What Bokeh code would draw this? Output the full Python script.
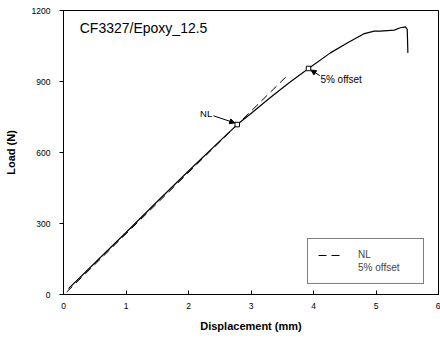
from bokeh.plotting import figure
from bokeh.models import Range1d, Legend, LegendItem, Arrow, NormalHead, FixedTicker
from bokeh.core.properties import value
from bokeh.embed import file_html
from bokeh.resources import INLINE

# --- data ---
disp = [0.08, 0.5, 1.0, 1.5, 2.0, 2.5, 2.78, 3.0, 3.3, 3.6, 3.92, 4.27, 4.54, 4.80, 4.97, 5.07, 5.29, 5.39, 5.47, 5.50, 5.51]
load = [25, 133, 262, 393, 522, 648, 718, 765, 830, 893, 955, 1021, 1063, 1101, 1113, 1113, 1117, 1127, 1131, 1120, 1021]
nl_x = [0.05, 3.6]
nl_y = [10, 930]
offset_x = [0.05, 3.92]
offset_y = [10, 955]
marker_x = [2.78, 3.92]
marker_y = [718, 955]
title_text = "CF3327/Epoxy_12.5"
x_ticks = [0, 1, 2, 3, 4, 5, 6]
y_ticks = [0, 300, 600, 900, 1200]

FONT = "Liberation Sans"

p = figure(width=440, height=341, output_backend="svg", toolbar_location=None,
           x_range=Range1d(0, 6), y_range=Range1d(0, 1200),
           min_border_left=63, min_border_right=2, min_border_top=10, min_border_bottom=47)
p.background_fill_color = "white"
p.border_fill_color = "white"
p.outline_line_color = "black"
p.outline_line_width = 1
p.xgrid.visible = False
p.ygrid.visible = False

for ax in (p.xaxis[0], p.yaxis[0]):
    ax.axis_line_color = "black"
    ax.major_tick_line_color = "black"
    ax.minor_tick_line_color = None
    ax.major_label_text_font = FONT
    ax.major_label_text_font_size = "8.5px"
    ax.major_label_text_color = "black"
    ax.axis_label_text_font = FONT
    ax.axis_label_text_font_size = "11px"
    ax.axis_label_text_font_style = "bold"
    ax.axis_label_text_color = "black"

p.xaxis.ticker = FixedTicker(ticks=x_ticks)
p.yaxis.ticker = FixedTicker(ticks=y_ticks)
p.xaxis.major_tick_in = 4
p.xaxis.major_tick_out = 0
p.yaxis.major_tick_in = 0
p.yaxis.major_tick_out = 4
p.xaxis.major_label_standoff = 8
p.yaxis.major_label_standoff = 9
p.xaxis.axis_label = "Displacement (mm)"
p.yaxis.axis_label = "Load (N)"
p.xaxis.axis_label_standoff = 8
p.yaxis.axis_label_standoff = 12

curve = p.line(disp, load, line_color="black", line_width=1.2)
nl = p.line(nl_x, nl_y, line_color="black", line_width=1, line_dash="8 5")
off = p.line(offset_x, offset_y, line_color="black", line_width=1, line_alpha=0)
p.scatter(marker_x, marker_y, marker="square", size=4.5, fill_color="white", line_color="black", line_width=1)

p.text(x=[0.26], y=[1124], text=[title_text], text_font=value(FONT), text_font_size="14px",
       text_baseline="middle", text_align="left", text_color="black")
p.text(x=[2.38], y=[763], text=["NL"], text_font=value(FONT), text_font_size="9.5px",
       text_baseline="middle", text_align="right", text_color="black")
p.text(x=[4.11], y=[907], text=["5% offset"], text_font=value(FONT), text_font_size="10px",
       text_baseline="middle", text_align="left", text_color="black")

p.add_layout(Arrow(end=NormalHead(size=5, fill_color="black", line_color="black"),
                   x_start=2.40, y_start=755, x_end=2.74, y_end=725, line_width=1))
p.add_layout(Arrow(end=NormalHead(size=5, fill_color="black", line_color="black"),
                   x_start=4.10, y_start=925, x_end=3.96, y_end=948, line_width=1))

legend = Legend(items=[LegendItem(label="NL", renderers=[nl]),
                       LegendItem(label="5% offset", renderers=[off])],
                location=(244, 10))
legend.label_text_font = FONT
legend.label_text_font_size = "10px"
legend.glyph_width = 25
legend.glyph_height = 10
legend.label_height = 10
legend.label_width = 55
legend.label_standoff = 15
legend.padding = 10
legend.spacing = 2
legend.margin = 0
legend.border_line_color = "black"
legend.border_line_width = 1
legend.background_fill_alpha = 1
p.add_layout(legend)

open("out.html", "w").write(file_html(p, INLINE))
